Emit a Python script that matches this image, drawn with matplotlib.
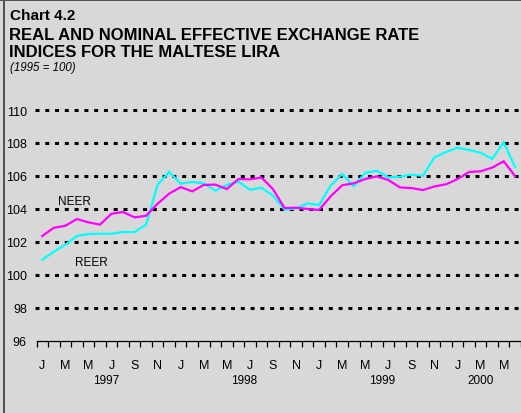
import matplotlib
matplotlib.use("Agg")
import matplotlib.pyplot as plt
from matplotlib.lines import Line2D

# Monthly index values, Jan 1997 - Jun 2000 (1995 = 100)
months = ["J", "F", "M", "A", "M", "J", "J", "A", "S", "O", "N", "D"]
years = [1997, 1998, 1999, 2000]

neer = [102.35, 102.85, 102.97, 103.38, 103.18, 103.04, 103.70, 103.81, 103.48, 103.58, 104.31, 104.92,
        105.32, 105.06, 105.45, 105.47, 105.20, 105.81, 105.79, 105.90, 105.20, 104.05, 104.07, 103.99,
        103.93, 104.76, 105.43, 105.55, 105.81, 105.97, 105.75, 105.30, 105.26, 105.14, 105.36, 105.49,
        105.81, 106.24, 106.28, 106.50, 106.89, 105.97]
reer = [100.91, 101.40, 101.82, 102.35, 102.47, 102.49, 102.49, 102.59, 102.59, 103.04, 105.47, 106.24,
        105.53, 105.63, 105.55, 105.10, 105.45, 105.65, 105.16, 105.28, 104.80, 103.95, 104.03, 104.33,
        104.23, 105.41, 106.11, 105.37, 106.19, 106.31, 105.91, 105.95, 106.07, 106.01, 107.13, 107.45,
        107.71, 107.57, 107.41, 107.03, 108.04, 106.52]

y_ticks = [96, 98, 100, 102, 104, 106, 108, 110]
year_label_pos = [5.5, 17.5, 29.5, 38.0]

BG = "#d8d8d8"
W, H = 521, 414
fig = plt.figure(figsize=(W / 100, H / 100), dpi=100, facecolor=BG)

# frame edges of the panel
fig.add_artist(Line2D([4 / W, 4 / W], [0, 1], transform=fig.transFigure, color="#505050", lw=1.4))
fig.add_artist(Line2D([0, 1], [1 - 0.6 / H, 1 - 0.6 / H], transform=fig.transFigure, color="#505050", lw=1.4))

# titles
fig.text(10 / W, 1 - 15.5 / H, "Chart 4.2", fontsize=11, fontweight="bold",
         family="Liberation Sans", va="center", ha="left")
fig.text(9 / W, 1 - 35.5 / H, "REAL AND NOMINAL EFFECTIVE EXCHANGE RATE", fontsize=12,
         fontweight="bold", family="Liberation Sans", va="center", ha="left")
fig.text(9 / W, 1 - 52.5 / H, "INDICES FOR THE MALTESE LIRA", fontsize=12,
         fontweight="bold", family="Liberation Sans", va="center", ha="left")
fig.text(10 / W, 1 - 67.5 / H, "(1995 = 100)", fontsize=8.3, style="italic",
         family="Liberation Sans", va="center", ha="left")

ax_left, ax_top, ax_bottom = 36.5, 111.0, 341.6
ax = fig.add_axes([ax_left / W, (H - ax_bottom) / H, (W - ax_left) / W, (ax_bottom - ax_top) / H])
ax.set_facecolor(BG)
ax.set_xlim(-0.5, len(neer) - 0.5)
ax.set_ylim(y_ticks[0], y_ticks[-1])

for s in ["left", "right", "top"]:
    ax.spines[s].set_visible(False)
ax.spines["bottom"].set_color("black")
ax.spines["bottom"].set_linewidth(0.9)

# dotted gridlines
for yv in y_ticks[1:]:
    ln = ax.axhline(yv, xmin=-0.004, xmax=1, color="black", lw=2.2, clip_on=False, zorder=1)
    ln.set_dashes((1.3, 1.9))
    ln.set_dash_capstyle("butt")

x = list(range(len(neer)))
ax.plot(x, reer, color="#00ffff", lw=1.6, zorder=3, solid_joinstyle="miter")
ax.plot(x, neer, color="#ff00ff", lw=1.6, zorder=4, solid_joinstyle="miter")

ax.text(1.4, 104.45, "NEER", fontsize=8.5, family="Liberation Sans", va="center", ha="left")
ax.text(2.8, 100.8, "REER", fontsize=8.5, family="Liberation Sans", va="center", ha="left")

# y axis
ax.set_yticks(y_ticks)
ax.set_yticklabels([str(v) for v in y_ticks], fontsize=9, family="Liberation Sans")
ax.tick_params(axis="y", length=0, pad=7)

# x axis: month boundary ticks, bimonthly letters, years below
ax.set_xticks([i - 0.5 for i in range(len(neer) + 1)], minor=True)
ax.tick_params(axis="x", which="minor", direction="out", length=4, width=0.9, color="black")
lab_pos = list(range(0, len(neer), 2))
ax.set_xticks(lab_pos)
ax.set_xticklabels([months[i % 12] for i in lab_pos], fontsize=9, family="Liberation Sans")
ax.tick_params(axis="x", which="major", length=0, pad=13)

for xp, yr in zip(year_label_pos, years):
    ax.text(xp, -0.173, str(yr), transform=ax.get_xaxis_transform(), fontsize=8.5,
            family="Liberation Sans", ha="center", va="center")

fig.savefig("out.png", dpi=100, facecolor=BG)
